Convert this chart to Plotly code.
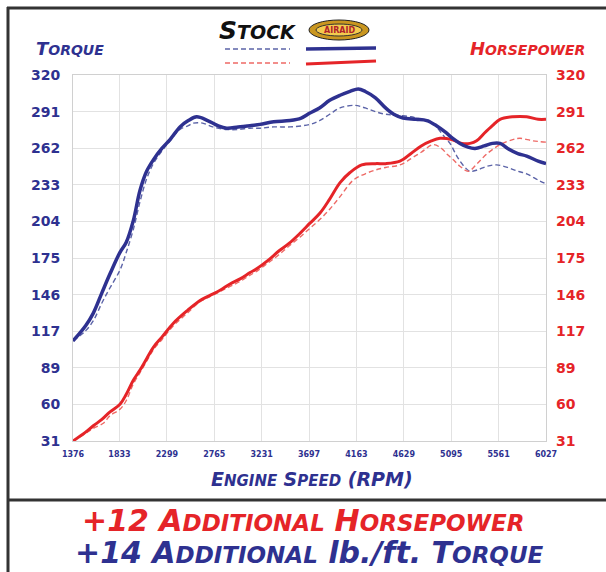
import plotly.graph_objects as go

W, H = 606, 572

# ---------------- data ----------------
x_ticks = [1376, 1833, 2299, 2765, 3231, 3697, 4163, 4629, 5095, 5561, 6027]
y_tickvals = [31 + i * 28.9 for i in range(11)]
y_ticktext = ["31", "60", "89", "117", "146", "175", "204", "233", "262", "291", "320"]

tq_airaid_rpm = [1376, 1500, 1576, 1660, 1740, 1838, 1900, 1969, 2035, 2100, 2166, 2250, 2330, 2428, 2510, 2592,
                 2700, 2800, 2887, 3000, 3117, 3215, 3350, 3510, 3620, 3706, 3800, 3900, 4002, 4100, 4181, 4250,
                 4350, 4450, 4530, 4621, 4750, 4854, 4950, 5035, 5110, 5181, 5260, 5329, 5420, 5500, 5575, 5650,
                 5750, 5837, 5950, 6027]
tq_airaid = [110, 122, 132, 148, 163, 180, 188, 205, 229, 244, 253, 262, 269, 279, 284, 287,
             284, 280, 278, 279, 280, 281, 283, 284, 286, 290, 294, 300, 304, 307, 309, 307,
             302, 294, 289, 286, 285, 284, 280, 275, 270, 266, 263, 262, 264, 266, 266, 262,
             258, 256, 252, 250]

tq_stock_rpm = [1376, 1500, 1576, 1660, 1740, 1838, 1900, 1969, 2035, 2100, 2166, 2250, 2330, 2428, 2510, 2559,
                2650, 2750, 2887, 3000, 3117, 3215, 3350, 3510, 3706, 3800, 3900, 4002, 4149, 4250, 4350, 4450,
                4591, 4700, 4800, 4886, 4950, 5020, 5083, 5150, 5220, 5280, 5350, 5450, 5542, 5650, 5750, 5837,
                5950, 6027]
tq_stock = [110, 118, 126, 140, 152, 166, 180, 198, 220, 238, 250, 260, 268, 277, 280, 282,
            282, 279, 277, 277, 278, 278, 279, 279, 281, 284, 289, 294, 296, 294, 291, 289,
            288, 287, 285, 284, 279, 272, 266, 256, 248, 244, 245, 248, 249, 247, 244, 242,
            237, 234]

hp_airaid_rpm = [1376, 1500, 1576, 1660, 1740, 1838, 1900, 1969, 2035, 2100, 2166, 2250, 2363, 2500, 2625, 2722,
                 2822, 2920, 3019, 3117, 3182, 3300, 3400, 3500, 3608, 3706, 3805, 3900, 4002, 4100, 4215, 4350,
                 4450, 4591, 4700, 4800, 4900, 4985, 5100, 5200, 5280, 5345, 5420, 5500, 5575, 5700, 5837, 5950,
                 6027]
hp_airaid = [31, 38, 43, 48, 54, 60, 68, 79, 87, 96, 105, 113, 124, 134, 142, 146,
             150, 155, 159, 164, 167, 174, 181, 187, 195, 203, 211, 222, 235, 243, 249, 250,
             250, 252, 258, 264, 268, 270, 269, 266, 266, 268, 274, 280, 285, 287, 287, 285,
             285]

hp_stock_rpm = [1376, 1500, 1576, 1674, 1740, 1838, 1900, 1969, 2035, 2100, 2166, 2250, 2363, 2500, 2625, 2722,
                2822, 2920, 3019, 3117, 3182, 3300, 3400, 3500, 3608, 3706, 3805, 3900, 4002, 4132, 4250, 4350,
                4450, 4591, 4700, 4800, 4919, 5000, 5060, 5116, 5180, 5263, 5350, 5450, 5575, 5700, 5772, 5900,
                6027]
hp_stock = [31, 37, 41, 45, 51, 56, 63, 76, 85, 94, 103, 111, 122, 132, 141, 145,
            149, 153, 157, 162, 165, 172, 178, 185, 192, 199, 206, 214, 224, 237, 242, 245,
            247, 249, 254, 259, 265, 262, 257, 253, 248, 244, 250, 258, 265, 269, 270, 268,
            267]

# ---------------- style ----------------
NAVY = "#2E3190"
NAVY_LIGHT = "#5C64A8"
RED = "#E52428"
RED_LIGHT = "#EE6A66"
FONT = "DejaVu Sans"


def px(x):
    return x / W


def py(y):
    return 1 - y / H


def sc(word, big, small):
    """manual small caps: first letter big, rest uppercase smaller"""
    return (f'<span style="font-size:{big}px">{word[0].upper()}</span>'
            f'<span style="font-size:{small}px">{word[1:].upper()}</span>')


fig = go.Figure()

fig.add_trace(go.Scatter(x=tq_stock_rpm, y=tq_stock, mode="lines", name="Stock torque",
                         line=dict(color=NAVY_LIGHT, width=1.4, dash="5px,3px", shape="spline")))
fig.add_trace(go.Scatter(x=hp_stock_rpm, y=hp_stock, mode="lines", name="Stock HP",
                         line=dict(color=RED_LIGHT, width=1.4, dash="5px,3px", shape="spline")))
fig.add_trace(go.Scatter(x=hp_airaid_rpm, y=hp_airaid, mode="lines", name="Airaid HP",
                         line=dict(color=RED, width=3, shape="spline")))
fig.add_trace(go.Scatter(x=tq_airaid_rpm, y=tq_airaid, mode="lines", name="Airaid torque",
                         line=dict(color=NAVY, width=3.5, shape="spline")))
# invisible trace to activate right axis
fig.add_trace(go.Scatter(x=[x_ticks[0]], y=[31], yaxis="y2", mode="markers",
                         marker=dict(opacity=0), showlegend=False, hoverinfo="skip"))

xdom = [px(73), px(546)]
ydom = [py(441), py(75)]

fig.update_layout(
    width=W, height=H,
    margin=dict(l=0, r=0, t=0, b=0, autoexpand=False),
    paper_bgcolor="white", plot_bgcolor="white",
    showlegend=False,
    xaxis=dict(domain=xdom, range=[1376, 6027], tickvals=x_ticks, ticktext=[str(t) for t in x_ticks],
               tickfont=dict(family=FONT, size=8, color=NAVY, weight="bold"), automargin=False,
               showgrid=True, gridcolor="#E2E2E2", gridwidth=1, zeroline=False,
               showline=True, linecolor="#D0D0D0", mirror=True, ticks="", ticklabelstandoff=5),
    yaxis=dict(domain=ydom, range=[31, 320], tickvals=y_tickvals, ticktext=y_ticktext, automargin=False,
               tickfont=dict(family=FONT, size=14, color=NAVY, weight="bold"),
               showgrid=True, gridcolor="#E2E2E2", gridwidth=1, zeroline=False,
               showline=True, linecolor="#D0D0D0", mirror=True, ticks="", ticklabelstandoff=9),
    yaxis2=dict(overlaying="y", side="right", range=[31, 320], tickvals=y_tickvals, ticktext=y_ticktext,
                tickfont=dict(family=FONT, size=14, color=RED, weight="bold"), automargin=False,
                showgrid=False, zeroline=False, showline=False, ticks="", ticklabelstandoff=9),
)

# frame
line_col = "#333333"
shapes = [
    dict(type="line", xref="paper", yref="paper", x0=px(7), x1=1, y0=py(8), y1=py(8),
         line=dict(color=line_col, width=3)),
    dict(type="line", xref="paper", yref="paper", x0=px(8), x1=px(8), y0=py(7), y1=0,
         line=dict(color=line_col, width=3)),
    dict(type="line", xref="paper", yref="paper", x0=px(8), x1=1, y0=py(500), y1=py(500),
         line=dict(color=line_col, width=3)),
    # legend samples
    dict(type="line", xref="paper", yref="paper", x0=px(225), x1=px(290), y0=py(49), y1=py(49),
         line=dict(color=NAVY_LIGHT, width=1.4, dash="5px,3px")),
    dict(type="line", xref="paper", yref="paper", x0=px(225), x1=px(290), y0=py(63), y1=py(63),
         line=dict(color=RED_LIGHT, width=1.4, dash="5px,3px")),
    dict(type="line", xref="paper", yref="paper", x0=px(306), x1=px(376), y0=py(49), y1=py(48),
         line=dict(color=NAVY, width=3.5)),
    dict(type="line", xref="paper", yref="paper", x0=px(306), x1=px(376), y0=py(64), y1=py(61),
         line=dict(color=RED, width=3)),
    # AIRAID logo
    dict(type="circle", xref="paper", yref="paper", x0=px(309), x1=px(369), y0=py(40), y1=py(20),
         fillcolor="#C9961F", line=dict(color="#222222", width=1)),
    dict(type="circle", xref="paper", yref="paper", x0=px(316), x1=px(362), y0=py(36), y1=py(24),
         fillcolor="#F4CB4E", line=dict(color="#333333", width=1)),
]
fig.update_layout(shapes=shapes)

big_t, small_t = 30, 23
line1 = ('<span style="font-size:%dpx">+12 </span>' % big_t) + sc("Additional", big_t, small_t) + " " + \
        sc("Horsepower", big_t, small_t)
line2 = ('<span style="font-size:%dpx">+14 </span>' % big_t) + sc("Additional", big_t, small_t) + \
        ('<span style="font-size:%dpx"> lb./ft. </span>' % big_t) + sc("Torque", big_t, small_t)

annos = [
    dict(text=sc("Torque", 18, 14), x=px(34), y=py(48), xanchor="left", yanchor="middle",
         font=dict(family=FONT, size=16, color=NAVY, weight="bold", style="italic")),
    dict(text=sc("Horsepower", 18, 14), x=px(587), y=py(48), xanchor="right", yanchor="middle",
         font=dict(family=FONT, size=16, color=RED, weight="bold", style="italic")),
    dict(text=sc("Stock", 25, 19), x=px(257), y=py(31), xanchor="center", yanchor="middle",
         font=dict(family=FONT, size=22, color="#111111", weight="bold", style="italic")),
    dict(text="AIRAID", x=px(339), y=py(30), xanchor="center", yanchor="middle",
         font=dict(family=FONT, size=8, color="#B0232A", weight="bold")),
    dict(text=sc("Engine", 19, 15) + " " + sc("Speed", 19, 15) + '<span style="font-size:19px"> (RPM)</span>',
         x=px(312), y=py(479), xanchor="center", yanchor="middle",
         font=dict(family=FONT, size=18, color=NAVY, weight="bold", style="italic")),
    dict(text=line1, x=px(303), y=py(520), xanchor="center", yanchor="middle",
         font=dict(family=FONT, size=28, color=RED, weight="bold", style="italic")),
    dict(text=line2, x=px(309), y=py(552), xanchor="center", yanchor="middle",
         font=dict(family=FONT, size=28, color=NAVY, weight="bold", style="italic")),
]
for a in annos:
    a.update(xref="paper", yref="paper", showarrow=False)
fig.update_layout(annotations=annos)

fig.write_html("out.html", config=dict(displayModeBar=False),
               post_script="document.body.style.margin='0px';document.body.style.overflow='hidden';")
